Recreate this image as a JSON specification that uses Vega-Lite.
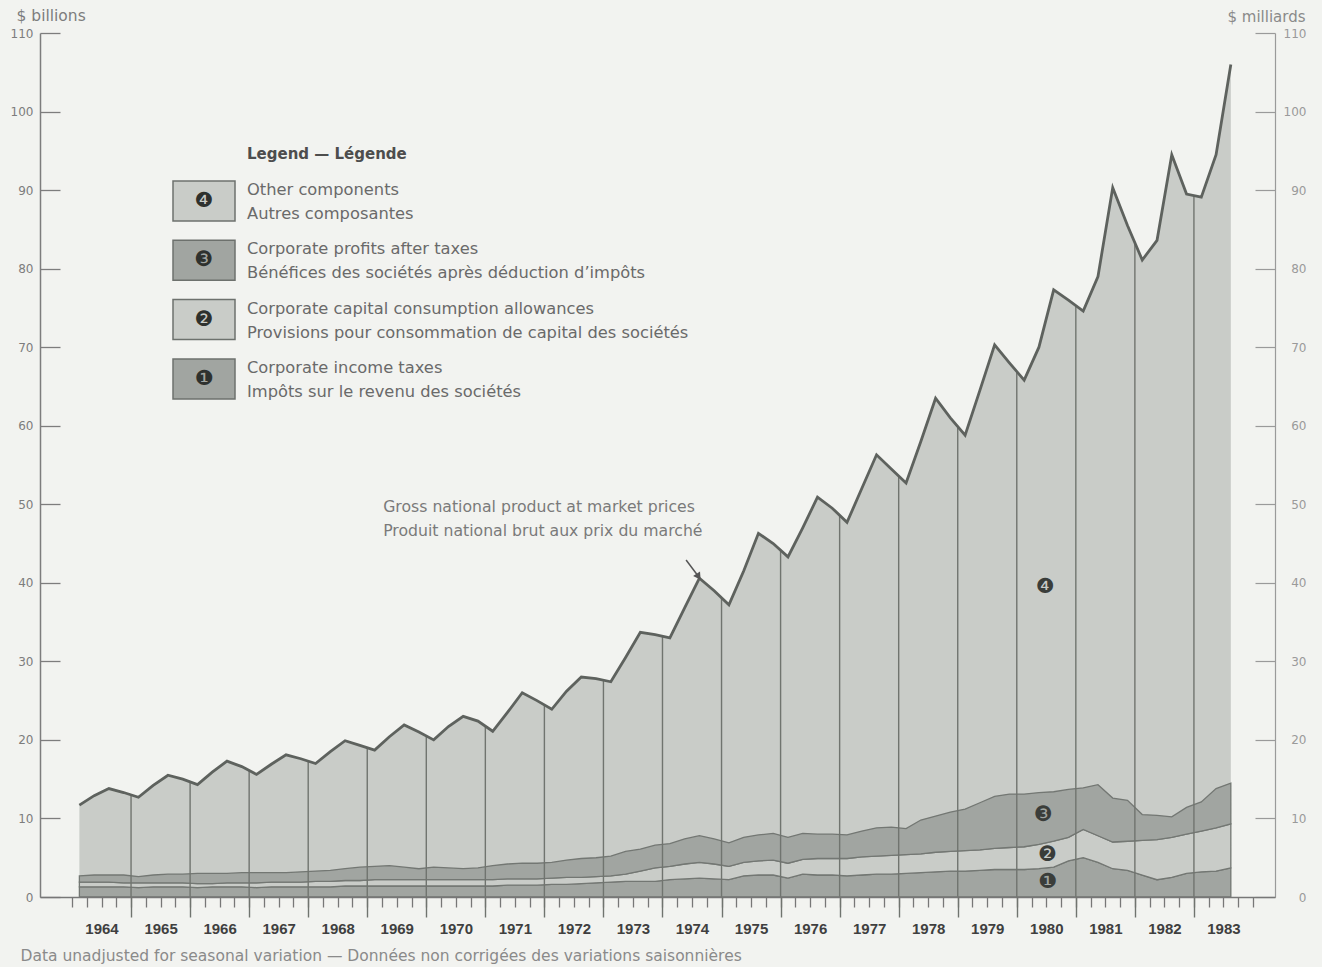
{
  "$schema": "https://vega.github.io/schema/vega-lite/v6.json",
  "width": 1235,
  "height": 864,
  "autosize": {"type": "none"},
  "padding": {"left": 40, "top": 33, "right": 47, "bottom": 70},
  "background": "#f2f3f0",
  "config": {"view": {"stroke": null}, "font": "DejaVu Sans"},
  "datasets": {
    "q": [
      {"t": 1964.125, "gnp": 11.7, "1_tax": 1.3, "2_cca": 0.6, "3_profit": 0.8},
      {"t": 1964.375, "gnp": 12.9, "1_tax": 1.3, "2_cca": 0.6, "3_profit": 0.9},
      {"t": 1964.625, "gnp": 13.8, "1_tax": 1.3, "2_cca": 0.6, "3_profit": 0.9},
      {"t": 1964.875, "gnp": 13.3, "1_tax": 1.3, "2_cca": 0.5, "3_profit": 1.0},
      {"t": 1965.125, "gnp": 12.7, "1_tax": 1.2, "2_cca": 0.6, "3_profit": 0.8},
      {"t": 1965.375, "gnp": 14.2, "1_tax": 1.3, "2_cca": 0.5, "3_profit": 1.0},
      {"t": 1965.625, "gnp": 15.5, "1_tax": 1.3, "2_cca": 0.5, "3_profit": 1.1},
      {"t": 1965.875, "gnp": 15.0, "1_tax": 1.3, "2_cca": 0.5, "3_profit": 1.1},
      {"t": 1966.125, "gnp": 14.3, "1_tax": 1.2, "2_cca": 0.5, "3_profit": 1.3},
      {"t": 1966.375, "gnp": 15.9, "1_tax": 1.3, "2_cca": 0.4, "3_profit": 1.3},
      {"t": 1966.625, "gnp": 17.3, "1_tax": 1.3, "2_cca": 0.5, "3_profit": 1.2},
      {"t": 1966.875, "gnp": 16.6, "1_tax": 1.3, "2_cca": 0.5, "3_profit": 1.3},
      {"t": 1967.125, "gnp": 15.6, "1_tax": 1.2, "2_cca": 0.6, "3_profit": 1.3},
      {"t": 1967.375, "gnp": 16.9, "1_tax": 1.3, "2_cca": 0.6, "3_profit": 1.2},
      {"t": 1967.625, "gnp": 18.1, "1_tax": 1.3, "2_cca": 0.6, "3_profit": 1.2},
      {"t": 1967.875, "gnp": 17.6, "1_tax": 1.3, "2_cca": 0.6, "3_profit": 1.3},
      {"t": 1968.125, "gnp": 17.0, "1_tax": 1.3, "2_cca": 0.7, "3_profit": 1.3},
      {"t": 1968.375, "gnp": 18.5, "1_tax": 1.3, "2_cca": 0.7, "3_profit": 1.4},
      {"t": 1968.625, "gnp": 19.9, "1_tax": 1.4, "2_cca": 0.7, "3_profit": 1.5},
      {"t": 1968.875, "gnp": 19.3, "1_tax": 1.4, "2_cca": 0.7, "3_profit": 1.7},
      {"t": 1969.125, "gnp": 18.7, "1_tax": 1.4, "2_cca": 0.8, "3_profit": 1.7},
      {"t": 1969.375, "gnp": 20.4, "1_tax": 1.4, "2_cca": 0.8, "3_profit": 1.8},
      {"t": 1969.625, "gnp": 21.9, "1_tax": 1.4, "2_cca": 0.8, "3_profit": 1.6},
      {"t": 1969.875, "gnp": 21.0, "1_tax": 1.4, "2_cca": 0.8, "3_profit": 1.4},
      {"t": 1970.125, "gnp": 20.0, "1_tax": 1.4, "2_cca": 0.8, "3_profit": 1.6},
      {"t": 1970.375, "gnp": 21.7, "1_tax": 1.4, "2_cca": 0.8, "3_profit": 1.5},
      {"t": 1970.625, "gnp": 23.0, "1_tax": 1.4, "2_cca": 0.8, "3_profit": 1.4},
      {"t": 1970.875, "gnp": 22.4, "1_tax": 1.4, "2_cca": 0.8, "3_profit": 1.5},
      {"t": 1971.125, "gnp": 21.1, "1_tax": 1.4, "2_cca": 0.8, "3_profit": 1.8},
      {"t": 1971.375, "gnp": 23.5, "1_tax": 1.5, "2_cca": 0.8, "3_profit": 1.9},
      {"t": 1971.625, "gnp": 26.0, "1_tax": 1.5, "2_cca": 0.8, "3_profit": 2.0},
      {"t": 1971.875, "gnp": 25.0, "1_tax": 1.5, "2_cca": 0.8, "3_profit": 2.0},
      {"t": 1972.125, "gnp": 23.9, "1_tax": 1.6, "2_cca": 0.8, "3_profit": 2.0},
      {"t": 1972.375, "gnp": 26.2, "1_tax": 1.6, "2_cca": 0.9, "3_profit": 2.2},
      {"t": 1972.625, "gnp": 28.0, "1_tax": 1.7, "2_cca": 0.8, "3_profit": 2.4},
      {"t": 1972.875, "gnp": 27.8, "1_tax": 1.8, "2_cca": 0.8, "3_profit": 2.4},
      {"t": 1973.125, "gnp": 27.4, "1_tax": 1.9, "2_cca": 0.8, "3_profit": 2.5},
      {"t": 1973.375, "gnp": 30.5, "1_tax": 2.0, "2_cca": 0.9, "3_profit": 2.9},
      {"t": 1973.625, "gnp": 33.7, "1_tax": 2.0, "2_cca": 1.3, "3_profit": 2.8},
      {"t": 1973.875, "gnp": 33.4, "1_tax": 2.0, "2_cca": 1.7, "3_profit": 2.9},
      {"t": 1974.125, "gnp": 33.0, "1_tax": 2.2, "2_cca": 1.7, "3_profit": 2.9},
      {"t": 1974.375, "gnp": 36.8, "1_tax": 2.3, "2_cca": 1.9, "3_profit": 3.2},
      {"t": 1974.625, "gnp": 40.6, "1_tax": 2.4, "2_cca": 2.0, "3_profit": 3.4},
      {"t": 1974.875, "gnp": 39.0, "1_tax": 2.3, "2_cca": 1.9, "3_profit": 3.2},
      {"t": 1975.125, "gnp": 37.2, "1_tax": 2.2, "2_cca": 1.7, "3_profit": 3.0},
      {"t": 1975.375, "gnp": 41.5, "1_tax": 2.7, "2_cca": 1.7, "3_profit": 3.2},
      {"t": 1975.625, "gnp": 46.3, "1_tax": 2.8, "2_cca": 1.8, "3_profit": 3.3},
      {"t": 1975.875, "gnp": 45.0, "1_tax": 2.8, "2_cca": 1.9, "3_profit": 3.4},
      {"t": 1976.125, "gnp": 43.3, "1_tax": 2.4, "2_cca": 1.9, "3_profit": 3.3},
      {"t": 1976.375, "gnp": 47.0, "1_tax": 2.9, "2_cca": 1.9, "3_profit": 3.3},
      {"t": 1976.625, "gnp": 50.9, "1_tax": 2.8, "2_cca": 2.1, "3_profit": 3.1},
      {"t": 1976.875, "gnp": 49.5, "1_tax": 2.8, "2_cca": 2.1, "3_profit": 3.1},
      {"t": 1977.125, "gnp": 47.7, "1_tax": 2.7, "2_cca": 2.2, "3_profit": 3.0},
      {"t": 1977.375, "gnp": 52.0, "1_tax": 2.8, "2_cca": 2.3, "3_profit": 3.3},
      {"t": 1977.625, "gnp": 56.3, "1_tax": 2.9, "2_cca": 2.3, "3_profit": 3.6},
      {"t": 1977.875, "gnp": 54.5, "1_tax": 2.9, "2_cca": 2.4, "3_profit": 3.6},
      {"t": 1978.125, "gnp": 52.7, "1_tax": 3.0, "2_cca": 2.4, "3_profit": 3.3},
      {"t": 1978.375, "gnp": 58.0, "1_tax": 3.1, "2_cca": 2.4, "3_profit": 4.3},
      {"t": 1978.625, "gnp": 63.5, "1_tax": 3.2, "2_cca": 2.5, "3_profit": 4.6},
      {"t": 1978.875, "gnp": 61.0, "1_tax": 3.3, "2_cca": 2.5, "3_profit": 5.0},
      {"t": 1979.125, "gnp": 58.8, "1_tax": 3.3, "2_cca": 2.6, "3_profit": 5.3},
      {"t": 1979.375, "gnp": 64.5, "1_tax": 3.4, "2_cca": 2.6, "3_profit": 6.0},
      {"t": 1979.625, "gnp": 70.3, "1_tax": 3.5, "2_cca": 2.7, "3_profit": 6.6},
      {"t": 1979.875, "gnp": 68.0, "1_tax": 3.5, "2_cca": 2.8, "3_profit": 6.8},
      {"t": 1980.125, "gnp": 65.8, "1_tax": 3.5, "2_cca": 2.9, "3_profit": 6.7},
      {"t": 1980.375, "gnp": 70.0, "1_tax": 3.6, "2_cca": 3.1, "3_profit": 6.6},
      {"t": 1980.625, "gnp": 77.3, "1_tax": 3.8, "2_cca": 3.3, "3_profit": 6.3},
      {"t": 1980.875, "gnp": 76.0, "1_tax": 4.6, "2_cca": 3.0, "3_profit": 6.1},
      {"t": 1981.125, "gnp": 74.6, "1_tax": 5.0, "2_cca": 3.6, "3_profit": 5.3},
      {"t": 1981.375, "gnp": 79.0, "1_tax": 4.4, "2_cca": 3.4, "3_profit": 6.5},
      {"t": 1981.625, "gnp": 90.3, "1_tax": 3.6, "2_cca": 3.4, "3_profit": 5.6},
      {"t": 1981.875, "gnp": 85.5, "1_tax": 3.4, "2_cca": 3.7, "3_profit": 5.2},
      {"t": 1982.125, "gnp": 81.1, "1_tax": 2.8, "2_cca": 4.4, "3_profit": 3.3},
      {"t": 1982.375, "gnp": 83.6, "1_tax": 2.2, "2_cca": 5.1, "3_profit": 3.1},
      {"t": 1982.625, "gnp": 94.5, "1_tax": 2.5, "2_cca": 5.1, "3_profit": 2.6},
      {"t": 1982.875, "gnp": 89.5, "1_tax": 3.0, "2_cca": 5.0, "3_profit": 3.4},
      {"t": 1983.125, "gnp": 89.1, "1_tax": 3.2, "2_cca": 5.2, "3_profit": 3.7},
      {"t": 1983.375, "gnp": 94.5, "1_tax": 3.3, "2_cca": 5.5, "3_profit": 5.0},
      {"t": 1983.625, "gnp": 106.0, "1_tax": 3.7, "2_cca": 5.6, "3_profit": 5.2}
    ],
    "years": [
      {"t": 1965, "top": 13.0}, {"t": 1966, "top": 14.65}, {"t": 1967, "top": 16.1},
      {"t": 1968, "top": 17.3}, {"t": 1969, "top": 19.0}, {"t": 1970, "top": 20.5},
      {"t": 1971, "top": 21.75}, {"t": 1972, "top": 24.45}, {"t": 1973, "top": 27.6},
      {"t": 1974, "top": 33.2}, {"t": 1975, "top": 38.1}, {"t": 1976, "top": 44.15},
      {"t": 1977, "top": 48.6}, {"t": 1978, "top": 53.6}, {"t": 1979, "top": 59.9},
      {"t": 1980, "top": 66.9}, {"t": 1981, "top": 75.3}, {"t": 1982, "top": 83.3},
      {"t": 1983, "top": 89.3}
    ],
    "marks": [
      {"t": 1980.48, "v": 39.5, "n": "4", "label": "❹"},
      {"t": 1980.45, "v": 10.4, "n": "3", "label": "❸"},
      {"t": 1980.52, "v": 5.35, "n": "2", "label": "❷"},
      {"t": 1980.52, "v": 1.9, "n": "1", "label": "❶"}
    ],
    "notes": [
      {"t": 1969.27, "v": 49.65, "text": "Gross national product at market prices"},
      {"t": 1969.27, "v": 46.6, "text": "Produit national brut aux prix du marché"}
    ],
    "arrow": [
      {"t": 1974.40, "v": 42.9, "t2": 1974.60, "v2": 40.9}
    ]
  },
  "resolve": {"axis": {"x": "independent", "y": "independent"}, "scale": {"opacity": "independent"}},
  "layer": [
    {
      "data": {"name": "q"},
      "mark": {"type": "area", "opacity": 1},
      "encoding": {
        "x": {
          "field": "t", "type": "quantitative",
          "scale": {"domain": [1963.458, 1984.373], "nice": false, "zero": false},
          "axis": {
            "orient": "bottom",
            "values": [1964, 1964.25, 1964.5, 1964.75, 1965, 1965.25, 1965.5, 1965.75, 1966, 1966.25, 1966.5, 1966.75, 1967, 1967.25, 1967.5, 1967.75, 1968, 1968.25, 1968.5, 1968.75, 1969, 1969.25, 1969.5, 1969.75, 1970, 1970.25, 1970.5, 1970.75, 1971, 1971.25, 1971.5, 1971.75, 1972, 1972.25, 1972.5, 1972.75, 1973, 1973.25, 1973.5, 1973.75, 1974, 1974.25, 1974.5, 1974.75, 1975, 1975.25, 1975.5, 1975.75, 1976, 1976.25, 1976.5, 1976.75, 1977, 1977.25, 1977.5, 1977.75, 1978, 1978.25, 1978.5, 1978.75, 1979, 1979.25, 1979.5, 1979.75, 1980, 1980.25, 1980.5, 1980.75, 1981, 1981.25, 1981.5, 1981.75, 1982, 1982.25, 1982.5, 1982.75, 1983, 1983.25, 1983.5, 1983.75, 1984],
            "tickSize": 10, "tickColor": "#777777", "tickWidth": 1.3,
            "domainColor": "#777777", "domainWidth": 1.5,
            "labelExpr": "datum.value % 1 == 0.5 ? '' + floor(datum.value) : ''",
            "labelFont": "Liberation Sans", "labelFontWeight": "bold", "labelFontSize": 15,
            "labelColor": "#3f3f3f", "labelPadding": 14,
            "labelOverlap": false, "labelFlush": false, "labelBound": false,
            "grid": false, "zindex": 1,
            "title": "Data unadjusted for seasonal variation — Données non corrigées des variations saisonnières",
            "titleX": -20, "titleY": 58, "titleAlign": "left", "titleBaseline": "middle",
            "titleFont": "DejaVu Sans", "titleFontSize": 15.5, "titleFontWeight": "normal", "titleColor": "#8a8a8a"
          }
        },
        "y": {
          "field": "gnp", "type": "quantitative",
          "scale": {"domain": [0, 110], "nice": false, "zero": true},
          "axis": {
            "orient": "left",
            "values": [0, 10, 20, 30, 40, 50, 60, 70, 80, 90, 100, 110],
            "tickSize": -20, "tickColor": "#7d7d7d", "tickWidth": 1.3,
            "domainColor": "#7d7d7d", "domainWidth": 1.5,
            "labelPadding": 27, "labelFont": "DejaVu Sans", "labelFontSize": 12,
            "labelColor": "#7d7d7d", "labelFlush": false, "labelBound": false, "grid": false,
            "title": "$ billions", "titleAngle": 0, "titleX": -24, "titleY": -18,
            "titleAlign": "left", "titleBaseline": "middle",
            "titleFont": "DejaVu Sans", "titleFontSize": 15.5, "titleFontWeight": "normal", "titleColor": "#7d7d7d"
          }
        },
        "color": {"datum": "4_other", "type": "nominal"}
      }
    },
    {
      "data": {"name": "q"},
      "transform": [{"fold": ["1_tax", "2_cca", "3_profit"], "as": ["key", "value"]}],
      "mark": {"type": "area", "opacity": 1, "stroke": "#737773", "strokeWidth": 1.3},
      "encoding": {
        "x": {"field": "t", "type": "quantitative", "axis": null},
        "y": {"field": "value", "type": "quantitative", "stack": "zero", "axis": null},
        "order": {"field": "key", "sort": "ascending"},
        "color": {
          "field": "key", "type": "nominal",
          "scale": {"domain": ["4_other", "3_profit", "2_cca", "1_tax"], "range": ["#c9ccc8", "#a1a5a1", "#c9ccc8", "#a1a5a1"]},
          "legend": {
            "orient": "none", "legendX": 143, "legendY": 147, "direction": "vertical",
            "title": null, "padding": 0,
            "symbolType": "M-1.55,-1L1.55,-1L1.55,1L-1.55,1Z", "symbolSize": 1600,
            "symbolStrokeColor": "#6d716d", "symbolStrokeWidth": 1.5, "symbolOpacity": 1,
            "rowPadding": 13.3,
            "labelExpr": "datum.value == '4_other' ? '❹' : datum.value == '3_profit' ? '❸' : datum.value == '2_cca' ? '❷' : '❶'",
            "labelFont": "DejaVu Sans", "labelFontSize": 21, "labelColor": "#2e312e",
            "labelAlign": "center", "labelBaseline": "middle", "labelOffset": -21
          }
        }
      }
    },
    {
      "data": {"name": "years"},
      "mark": {"type": "rule", "color": "#70746f", "strokeWidth": 1.4},
      "encoding": {
        "x": {
          "field": "t", "type": "quantitative",
          "axis": {
            "orient": "bottom",
            "values": [1965, 1966, 1967, 1968, 1969, 1970, 1971, 1972, 1973, 1974, 1975, 1976, 1977, 1978, 1979, 1980, 1981, 1982, 1983],
            "tickSize": 20, "tickColor": "#70746f", "tickWidth": 1.4,
            "domain": false, "labels": false, "title": null, "grid": false, "zindex": 1
          }
        },
        "y": {
          "field": "top", "type": "quantitative",
          "axis": {
            "orient": "right",
            "values": [0, 10, 20, 30, 40, 50, 60, 70, 80, 90, 100, 110],
            "tickSize": -20, "tickColor": "#9a9a9a", "tickWidth": 1.2,
            "domainColor": "#9a9a9a", "domainWidth": 1.2,
            "labelPadding": 51, "labelAlign": "right", "labelFont": "DejaVu Sans", "labelFontSize": 12,
            "labelColor": "#9a9a9a", "labelFlush": false, "labelBound": false, "grid": false,
            "title": "$ milliards", "titleAngle": 0, "titleX": 30, "titleY": -17,
            "titleAlign": "right", "titleBaseline": "middle",
            "titleFont": "DejaVu Sans", "titleFontSize": 15, "titleFontWeight": "normal", "titleColor": "#8a8a8a"
          }
        },
        "y2": {"datum": 0}
      }
    },
    {
      "data": {"name": "q"},
      "mark": {"type": "line", "color": "#5e625e", "strokeWidth": 2.8, "strokeJoin": "miter"},
      "encoding": {
        "x": {"field": "t", "type": "quantitative", "axis": null},
        "y": {"field": "gnp", "type": "quantitative", "axis": null}
      }
    },
    {
      "data": {"name": "marks"},
      "mark": {"type": "text", "font": "DejaVu Sans", "fontSize": 21, "color": "#3a3d3a", "align": "center", "baseline": "middle"},
      "encoding": {
        "x": {"field": "t", "type": "quantitative", "axis": null},
        "y": {"field": "v", "type": "quantitative", "axis": null},
        "text": {"field": "label"},
        "opacity": {
          "field": "n", "type": "ordinal",
          "scale": {"domain": ["4", "3", "2", "1"], "range": [1, 1, 1, 1]},
          "legend": {
            "orient": "none", "legendX": 207, "legendY": 114, "direction": "vertical",
            "title": "Legend — Légende", "titleFont": "DejaVu Sans", "titleFontSize": 15,
            "titleFontWeight": "bold", "titleColor": "#4d4d4d", "titleAnchor": "start", "titlePadding": 7,
            "padding": 0,
            "symbolType": "M0,-1L0,1", "symbolSize": 1600, "symbolStrokeWidth": 1.5,
            "symbolStrokeColor": "transparent", "symbolFillColor": "transparent",
            "rowPadding": 13.3,
            "labelExpr": "datum.value == '4' ? 'Other components' : datum.value == '3' ? 'Corporate profits after taxes' : datum.value == '2' ? 'Corporate capital consumption allowances' : 'Corporate income taxes'",
            "labelFont": "DejaVu Sans", "labelFontSize": 16.3, "labelColor": "#6a6a6a",
            "labelOffset": -42, "labelLimit": 1000, "labelAlign": "left", "labelBaseline": "middle"
          }
        }
      }
    },
    {
      "data": {"name": "marks"},
      "mark": {"type": "text", "font": "DejaVu Sans", "fontSize": 21},
      "encoding": {
        "x": {"field": "t", "type": "quantitative", "axis": null},
        "y": {"field": "v", "type": "quantitative", "axis": null},
        "text": {"value": ""},
        "opacity": {
          "field": "label", "type": "ordinal",
          "scale": {"domain": ["❹", "❸", "❷", "❶"], "range": [1, 1, 1, 1]},
          "legend": {
            "orient": "none", "legendX": 207, "legendY": 160, "direction": "vertical",
            "title": null, "padding": 0,
            "symbolType": "M0,-1L0,1", "symbolSize": 1600, "symbolStrokeWidth": 1.5,
            "symbolStrokeColor": "transparent", "symbolFillColor": "transparent",
            "rowPadding": 13.3,
            "labelExpr": "datum.value == '❹' ? 'Autres composantes' : datum.value == '❸' ? 'Bénéfices des sociétés après déduction d’impôts' : datum.value == '❷' ? 'Provisions pour consommation de capital des sociétés' : 'Impôts sur le revenu des sociétés'",
            "labelFont": "DejaVu Sans", "labelFontSize": 16.3, "labelColor": "#6a6a6a",
            "labelOffset": -42, "labelLimit": 1000, "labelAlign": "left", "labelBaseline": "middle"
          }
        }
      }
    },
    {
      "data": {"name": "notes"},
      "mark": {"type": "text", "align": "left", "baseline": "middle", "font": "DejaVu Sans", "fontSize": 15.7, "color": "#7a7a7a"},
      "encoding": {
        "x": {"field": "t", "type": "quantitative", "axis": null},
        "y": {"field": "v", "type": "quantitative", "axis": null},
        "text": {"field": "text"}
      }
    },
    {
      "data": {"name": "arrow"},
      "mark": {"type": "rule", "color": "#555555", "strokeWidth": 1.5},
      "encoding": {
        "x": {"field": "t", "type": "quantitative", "axis": null},
        "y": {"field": "v", "type": "quantitative", "axis": null},
        "x2": {"field": "t2"},
        "y2": {"field": "v2"}
      }
    },
    {
      "data": {"name": "arrow"},
      "mark": {"type": "point", "shape": "triangle", "filled": true, "size": 70, "angle": 146, "color": "#555555", "opacity": 1},
      "encoding": {
        "x": {"field": "t2", "type": "quantitative", "axis": null},
        "y": {"field": "v2", "type": "quantitative", "axis": null}
      }
    }
  ]
}
